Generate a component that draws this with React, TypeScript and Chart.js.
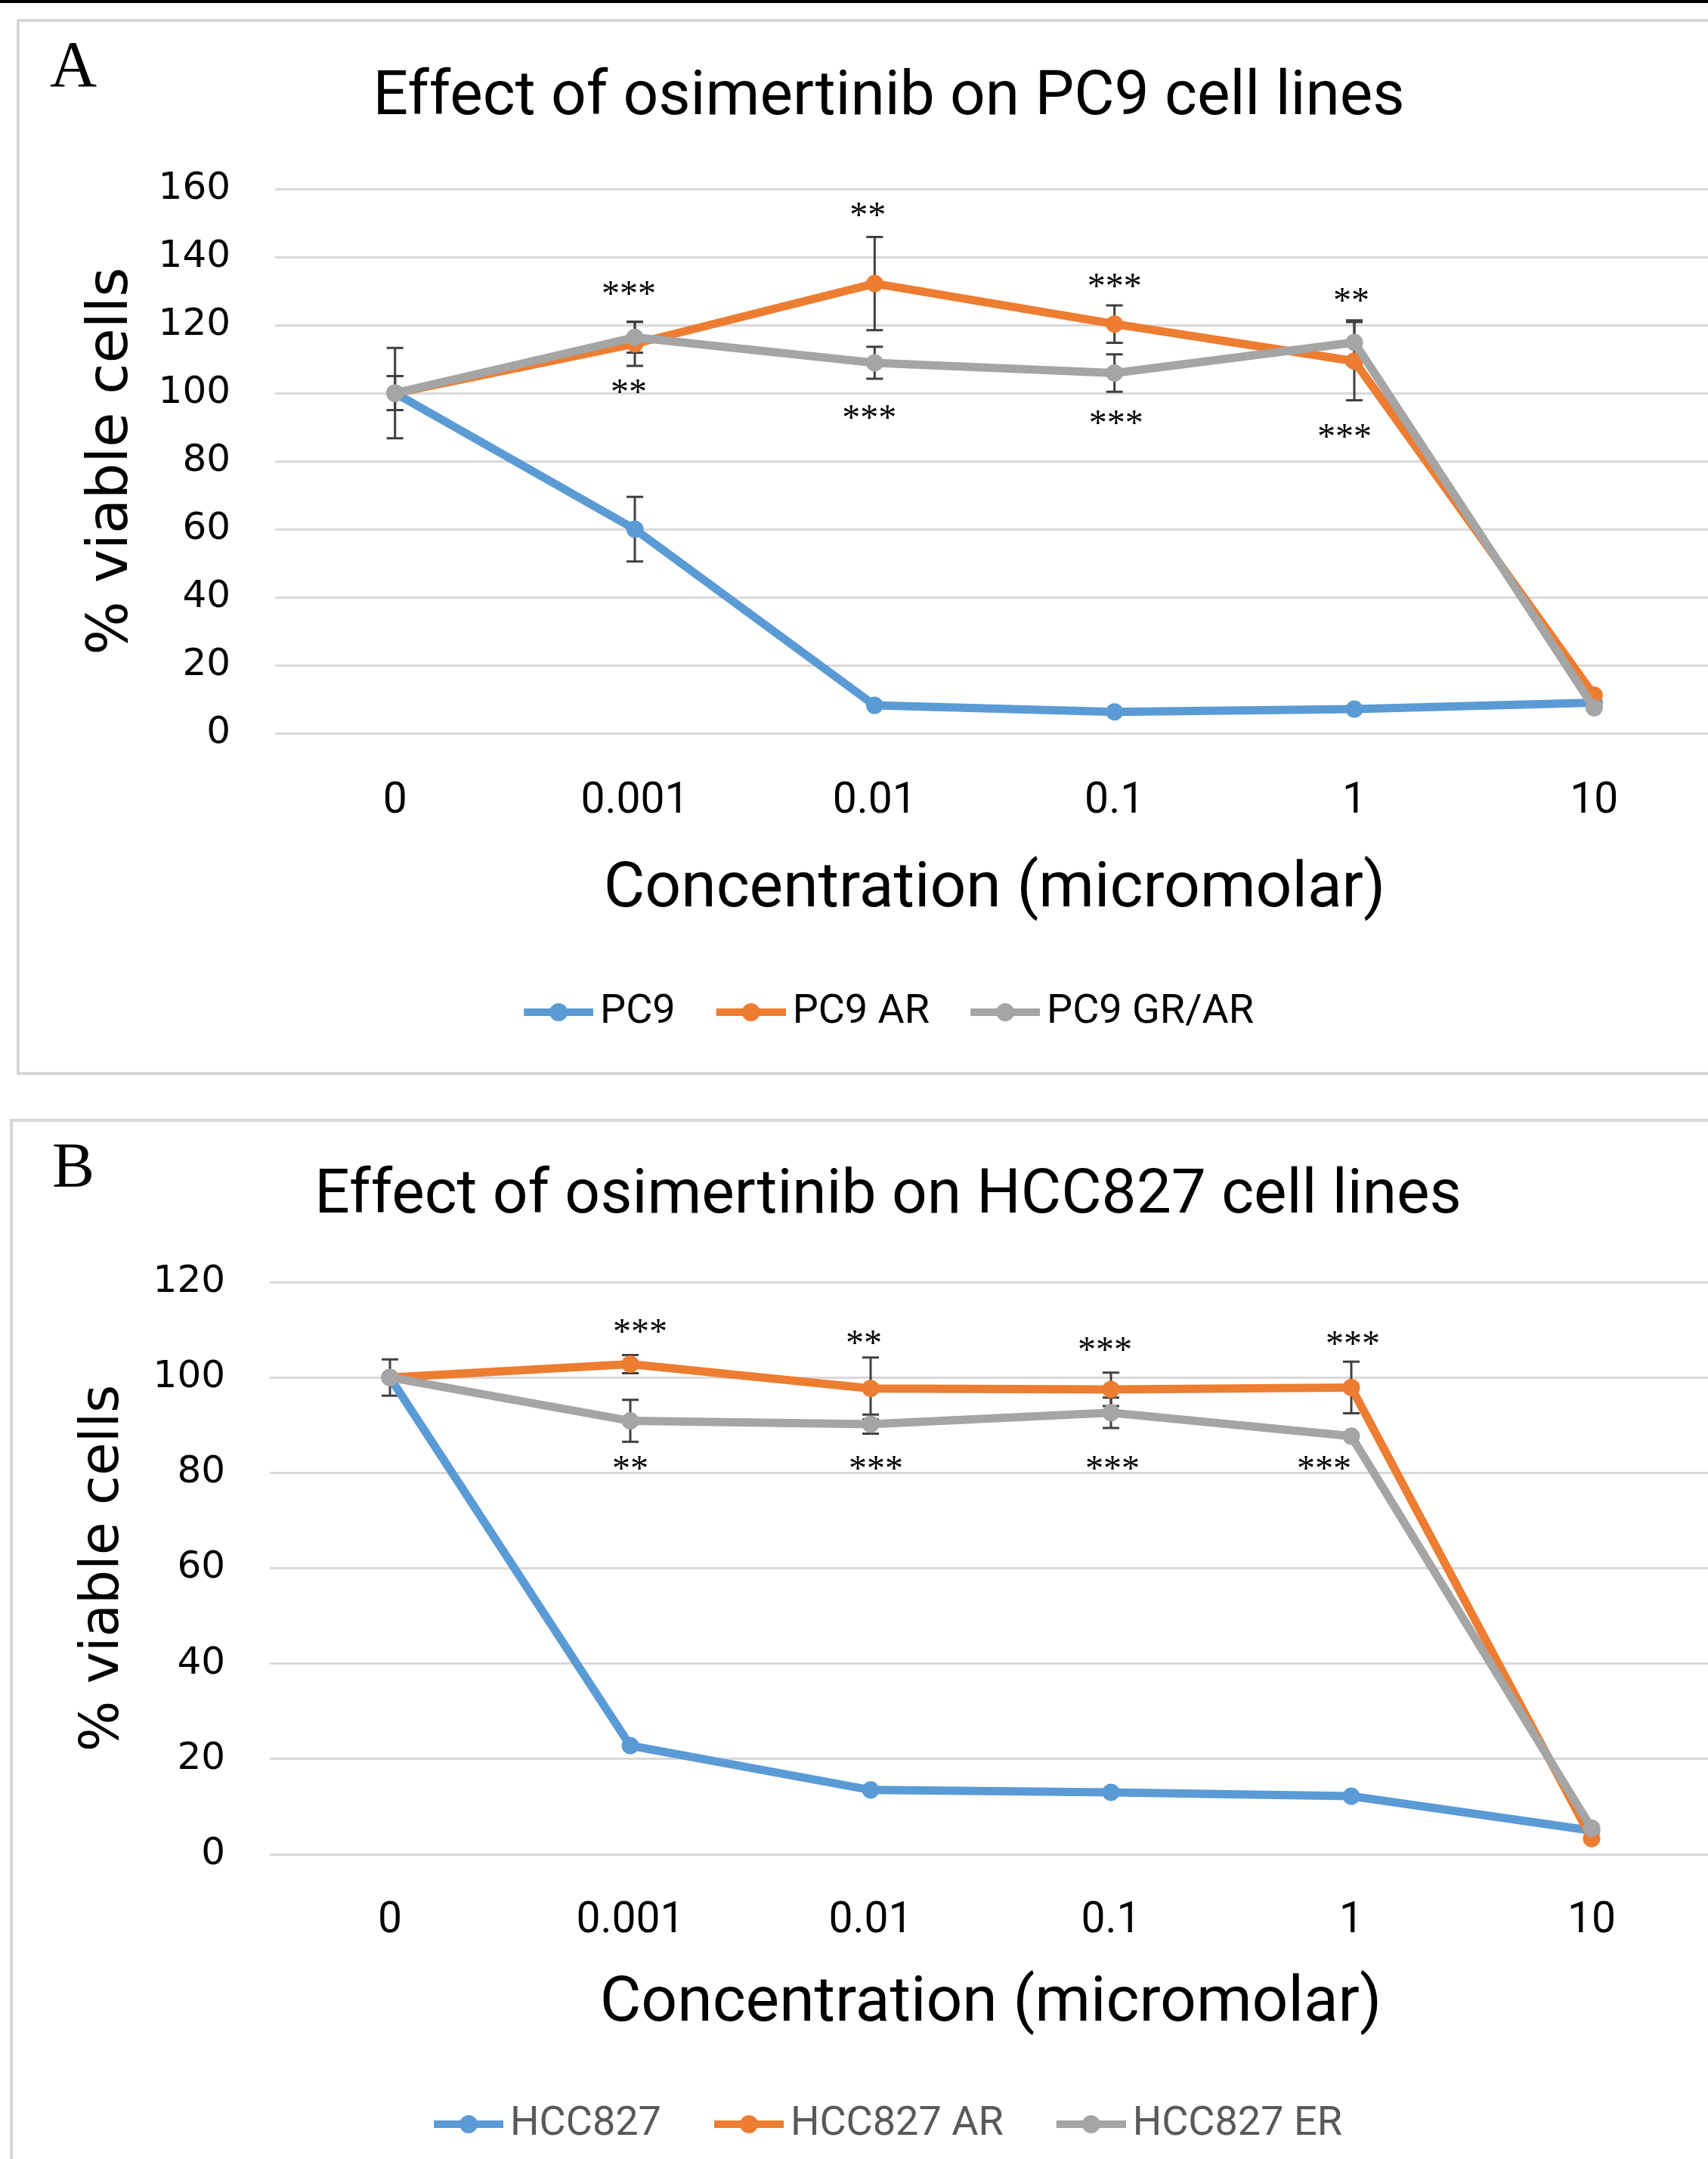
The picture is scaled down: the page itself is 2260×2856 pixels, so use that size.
import React, { useEffect, useRef } from "react";
import { Chart, registerables } from "chart.js";

Chart.register(...registerables);

// ---------- data ----------
const CONCENTRATIONS = ["0", "0.001", "0.01", "0.1", "1", "10"];

// Panel A: PC9 cell lines (% viable cells, mean and error)
const PC9 = [100, 60, 8.2, 6.3, 7.1, 9];
const PC9_ERR = [13.3, 9.5, 0, 0, 0, 0];
const PC9_AR = [100, 114.5, 132.2, 120.3, 109.4, 11.2];
const PC9_AR_ERR = [5, 6.5, 13.7, 5.5, 11.5, 0];
const PC9_GRAR = [100, 116.4, 108.9, 105.9, 114.9, 7.5];
const PC9_GRAR_ERR = [5, 4.5, 4.7, 5.5, 6.5, 0];

// Panel B: HCC827 cell lines
const HCC827 = [100, 22.8, 13.5, 13.0, 12.2, 5.0];
const HCC827_ERR = [3.8, 0, 0, 0, 0, 0];
const HCC827_AR = [100, 102.8, 97.7, 97.5, 97.9, 3.3];
const HCC827_AR_ERR = [0, 1.9, 6.5, 3.5, 5.4, 0];
const HCC827_ER = [100, 90.9, 90.2, 92.6, 87.7, 5.5];
const HCC827_ER_ERR = [0, 4.4, 2, 3.2, 0, 0];

// significance marks: category index, value (y-axis units), text
const A_STARS = [
  { cat: 1, value: 130.7, text: "***", dx: -8 },
  { cat: 1, value: 102, text: "**", dx: -8 },
  { cat: 2, value: 153.8, text: "**", dx: -9 },
  { cat: 2, value: 94.4, text: "***", dx: -7 },
  { cat: 3, value: 133.1, text: "***", dx: 0 },
  { cat: 3, value: 92.9, text: "***", dx: 2 },
  { cat: 4, value: 128.7, text: "**", dx: -4 },
  { cat: 4, value: 88.9, text: "***", dx: -13 },
];
const B_STARS = [
  { cat: 1, value: 110.8, text: "***", dx: 13 },
  { cat: 1, value: 82, text: "**", dx: 0 },
  { cat: 2, value: 108.4, text: "**", dx: -9 },
  { cat: 2, value: 82, text: "***", dx: 7 },
  { cat: 3, value: 107, text: "***", dx: -8 },
  { cat: 3, value: 82, text: "***", dx: 2 },
  { cat: 4, value: 108.2, text: "***", dx: 2 },
  { cat: 4, value: 82.1, text: "***", dx: -36 },
];

const BLUE = "#5B9BD5";
const ORANGE = "#ED7D31";
const GRAY = "#A5A5A5";

type Star = { cat: number; value: number; text: string; dx: number };
type Series = { label: string; data: number[]; err: number[]; color: string; order: number };

type PanelSpec = {
  letter: string;
  title: string;
  series: Series[];
  yMax: number;
  stars: Star[];
  width: number;
  height: number;
  left: number;
  top: number;
  padSide: number;
  padBottom: number;
  titlePadTop: number;
  titlePadBottom: number;
  yAxisWidth: number;
  yTitleSize: number;
  yTitlePadTop: number;
  xAxisHeight: number;
  xTickPad: number;
  xTitlePadBottom: number;
  legendPad: number;
  legendColor: string;
  letterX: number;
  letterY: number;
  letterSize: number;
};

const PANEL_A: PanelSpec = {
  letter: "A",
  title: "Effect of osimertinib on PC9 cell lines",
  series: [
    { label: "PC9", data: PC9, err: PC9_ERR, color: BLUE, order: 2 },
    { label: "PC9 AR", data: PC9_AR, err: PC9_AR_ERR, color: ORANGE, order: 1 },
    { label: "PC9 GR/AR", data: PC9_GRAR, err: PC9_GRAR_ERR, color: GRAY, order: 0 },
  ],
  yMax: 160,
  stars: A_STARS,
  width: 2304,
  height: 1390,
  left: 24,
  top: 27,
  padSide: 60,
  padBottom: 41,
  titlePadTop: 54,
  titlePadBottom: 70.6,
  yAxisWidth: 280,
  yTitleSize: 75,
  yTitlePadTop: 20,
  xAxisHeight: 288,
  xTickPad: 57,
  xTitlePadBottom: 30,
  legendPad: 54,
  legendColor: "#000000",
  letterX: 42,
  letterY: 87,
  letterSize: 86,
};

const PANEL_B: PanelSpec = {
  letter: "B",
  title: "Effect of osimertinib on HCC827 cell lines",
  series: [
    { label: "HCC827", data: HCC827, err: HCC827_ERR, color: BLUE, order: 2 },
    { label: "HCC827 AR", data: HCC827_AR, err: HCC827_AR_ERR, color: ORANGE, order: 1 },
    { label: "HCC827 ER", data: HCC827_ER, err: HCC827_ER_ERR, color: GRAY, order: 0 },
  ],
  yMax: 120,
  stars: B_STARS,
  width: 2320,
  height: 1400,
  left: 15,
  top: 1481,
  padSide: 70,
  padBottom: 34,
  titlePadTop: 53,
  titlePadBottom: 63.6,
  yAxisWidth: 272,
  yTitleSize: 71,
  yTitlePadTop: 10,
  xAxisHeight: 260,
  xTickPad: 55,
  xTitlePadBottom: 11,
  legendPad: 70,
  legendColor: "#595959",
  letterX: 54,
  letterY: 89,
  letterSize: 84,
};

function makeLegendImage(color: string): HTMLCanvasElement {
  const c = document.createElement("canvas");
  c.width = 110;
  c.height = 28;
  const ctx = c.getContext("2d")!;
  ctx.strokeStyle = color;
  ctx.lineWidth = 10;
  ctx.beginPath();
  ctx.moveTo(18, 14);
  ctx.lineTo(110, 14);
  ctx.stroke();
  ctx.fillStyle = color;
  ctx.beginPath();
  ctx.arc(64, 14, 12, 0, Math.PI * 2);
  ctx.fill();
  return c;
}

const errorBarPlugin = {
  id: "errorBars",
  beforeDatasetsDraw(chart: any) {
    const ctx = chart.ctx;
    const y = chart.scales.y;
    chart.data.datasets.forEach((ds: any, di: number) => {
      const meta = chart.getDatasetMeta(di);
      const errs: number[] = ds.errors;
      if (!errs) return;
      meta.data.forEach((pt: any, i: number) => {
        const e = errs[i];
        if (!e) return;
        const v = ds.data[i];
        const yt = y.getPixelForValue(v + e);
        const yb = y.getPixelForValue(v - e);
        ctx.save();
        ctx.strokeStyle = "#404040";
        ctx.lineWidth = 3;
        ctx.beginPath();
        ctx.moveTo(pt.x, yt);
        ctx.lineTo(pt.x, yb);
        ctx.moveTo(pt.x - 11, yt);
        ctx.lineTo(pt.x + 11, yt);
        ctx.moveTo(pt.x - 11, yb);
        ctx.lineTo(pt.x + 11, yb);
        ctx.stroke();
        ctx.restore();
      });
    });
  },
};

function makeStarsPlugin(stars: Star[]) {
  return {
    id: "stars",
    afterDatasetsDraw(chart: any) {
      const ctx = chart.ctx;
      const x = chart.scales.x;
      const y = chart.scales.y;
      const size = 48;
      ctx.save();
      ctx.font = `${size}px "Liberation Serif", "Times New Roman", serif`;
      ctx.fillStyle = "#000";
      ctx.textAlign = "center";
      ctx.textBaseline = "alphabetic";
      stars.forEach((s) => {
        const px = x.getPixelForValue(s.cat) + s.dx;
        const py = y.getPixelForValue(s.value) + size * 0.47;
        ctx.fillText(s.text, px, py);
      });
      ctx.restore();
    },
  };
}

function makeLetterPlugin(letter: string, lx: number, ly: number, size: number) {
  return {
    id: "panelLetter",
    afterDraw(chart: any) {
      const ctx = chart.ctx;
      ctx.save();
      ctx.font = `${size}px "Liberation Serif", "Times New Roman", serif`;
      ctx.fillStyle = "#000";
      ctx.textAlign = "left";
      ctx.textBaseline = "alphabetic";
      ctx.fillText(letter, lx, ly);
      ctx.restore();
    },
  };
}

function Panel({ spec }: { spec: PanelSpec }) {
  const ref = useRef<HTMLCanvasElement>(null);
  useEffect(() => {
    const canvas = ref.current!;
    const images = spec.series.map((s) => makeLegendImage(s.color));
    const chart = new Chart(canvas, {
      type: "line",
      data: {
        labels: CONCENTRATIONS,
        datasets: spec.series.map((s) => ({
          label: s.label,
          data: s.data,
          errors: s.err,
          borderColor: s.color,
          backgroundColor: s.color,
          pointBackgroundColor: s.color,
          pointBorderColor: s.color,
          pointRadius: 11.5,
          pointHoverRadius: 11.5,
          pointBorderWidth: 0,
          borderWidth: 11,
          tension: 0,
          fill: false,
          order: s.order,
        })) as any,
      },
      options: {
        responsive: false,
        animation: false,
        events: [],
        layout: { padding: { top: 0, left: spec.padSide, right: spec.padSide, bottom: spec.padBottom } },
        scales: {
          x: {
            type: "category",
            offset: true,
            grid: { display: false, drawTicks: false, tickLength: 0 },
            border: { display: false },
            ticks: {
              font: { family: "Roboto", size: 57 },
              color: "#000",
              padding: spec.xTickPad,
              maxRotation: 0,
              autoSkip: false,
            },
            title: {
              display: true,
              text: "Concentration (micromolar)",
              font: { family: "Roboto", size: 84 },
              color: "#000",
              padding: { top: 0, bottom: spec.xTitlePadBottom },
            },
            afterFit: (s: any) => {
              s.height = spec.xAxisHeight;
            },
          },
          y: {
            min: 0,
            max: spec.yMax,
            ticks: {
              stepSize: 20,
              font: { family: "DejaVu Sans", size: 50 },
              color: "#000",
              padding: 59,
            },
            grid: { color: "#d9d9d9", lineWidth: 3, drawTicks: false, tickLength: 0 },
            border: { display: false },
            title: {
              display: true,
              text: "% viable cells",
              font: { family: "DejaVu Sans", size: spec.yTitleSize },
              color: "#000",
              padding: { top: spec.yTitlePadTop, bottom: 0 },
            },
            afterFit: (s: any) => {
              s.width = spec.yAxisWidth;
            },
          },
        },
        plugins: {
          title: {
            display: true,
            text: spec.title,
            font: { family: "Roboto", size: 82, weight: "normal" },
            color: "#000",
            padding: { top: spec.titlePadTop, bottom: spec.titlePadBottom },
          },
          legend: {
            position: "bottom",
            labels: {
              usePointStyle: true,
              pointStyleWidth: 74,
              boxHeight: 54,
              font: { family: "Roboto", size: 54 },
              color: spec.legendColor,
              padding: spec.legendPad,
              generateLabels: (ch: any) =>
                ch.data.datasets.map((ds: any, i: number) => ({
                  text: ds.label,
                  fillStyle: ds.borderColor,
                  strokeStyle: ds.borderColor,
                  lineWidth: 0,
                  hidden: false,
                  datasetIndex: i,
                  pointStyle: images[i],
                  fontColor: spec.legendColor,
                })),
            },
          },
          tooltip: { enabled: false },
        },
      } as any,
      plugins: [
        errorBarPlugin,
        makeStarsPlugin(spec.stars),
        makeLetterPlugin(spec.letter, spec.letterX, spec.letterY, spec.letterSize),
      ],
    });
    return () => chart.destroy();
  }, [spec]);

  return (
    <canvas
      ref={ref}
      width={spec.width}
      height={spec.height}
      style={{
        position: "absolute",
        left: spec.left,
        top: spec.top,
        width: spec.width,
        height: spec.height,
      }}
    />
  );
}

export default function App() {
  return (
    <div
      style={{
        position: "absolute",
        left: 0,
        top: 0,
        width: 2260,
        height: 2856,
        overflow: "hidden",
        background: "#fff",
      }}
    >
      <div style={{ position: "absolute", left: 0, top: 0, width: 2260, height: 4, background: "#000" }} />
      <div
        style={{
          position: "absolute",
          left: 22,
          top: 25,
          width: 2400,
          height: 1397,
          border: "4px solid #d6d6d6",
          boxSizing: "border-box",
        }}
      />
      <div
        style={{
          position: "absolute",
          left: 13,
          top: 1480,
          width: 2400,
          height: 1500,
          border: "4px solid #d6d6d6",
          boxSizing: "border-box",
        }}
      />
      <Panel spec={PANEL_A} />
      <Panel spec={PANEL_B} />
    </div>
  );
}
